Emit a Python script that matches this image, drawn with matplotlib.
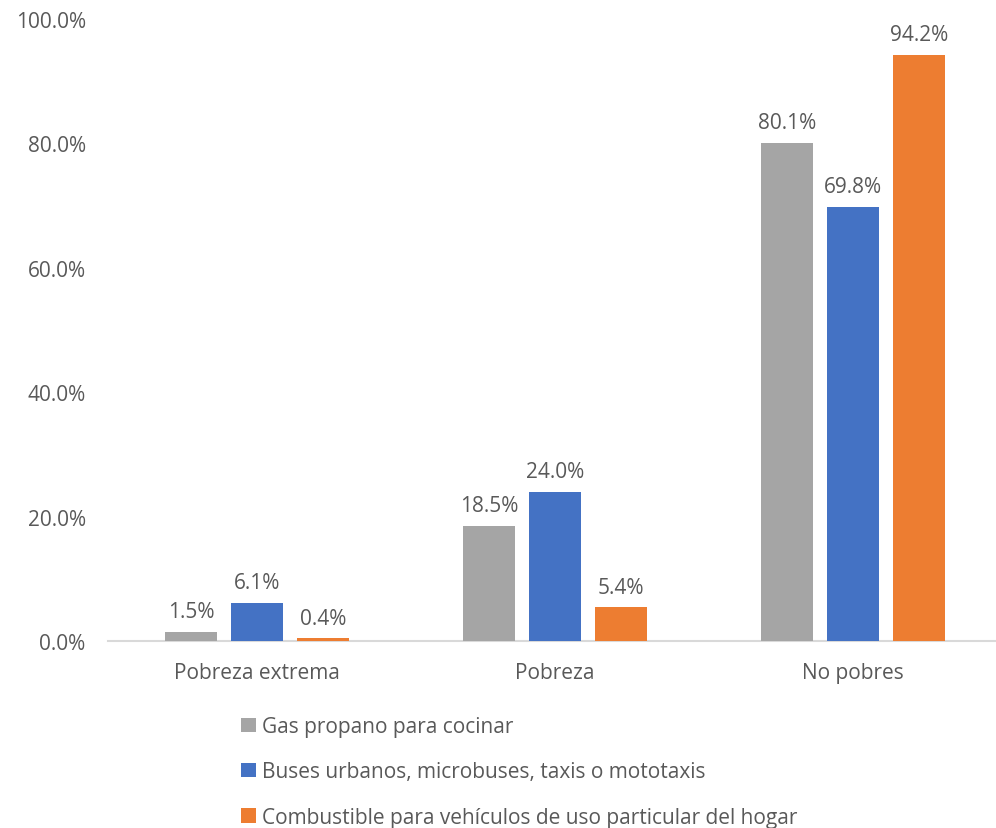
import numpy as np
import matplotlib
matplotlib.use('Agg')
from matplotlib import pyplot as plt
from matplotlib.ticker import FuncFormatter

categories = ['Pobreza extrema', 'Pobreza', 'No pobres']
series_names = ['Gas propano para cocinar',
                'Buses urbanos, microbuses, taxis o mototaxis',
                'Combustible para vehículos de uso particular del hogar']
gas = [1.5, 18.5, 80.1]
buses = [6.1, 24.0, 69.8]
combustible = [0.4, 5.4, 94.2]
colors = ['#a5a5a5', '#4472c4', '#ed7d31']

plt.rcParams['font.family'] = ['Open Sans', 'DejaVu Sans']
txt = '#595959'
fs = 15

fig = plt.figure(figsize=(9.96, 8.29), dpi=100)
ax = fig.add_axes([0.1084, 0.2256, 0.8976, 0.7503])

x = np.arange(len(categories))
w = 0.1745
step = 0.2215
for i, (vals, name, c) in enumerate(zip([gas, buses, combustible], series_names, colors)):
    bars = ax.bar(x + (i - 1) * step, vals, w, color=c, label=name, zorder=3)
    ax.bar_label(bars, labels=['%.1f%%' % v for v in vals], padding=7,
                 fontsize=fs, color=txt)

ax.set_xlim(-0.5, 2.5)
ax.set_ylim(0, 100)
ax.set_yticks(np.arange(0, 101, 20))
ax.yaxis.set_major_formatter(FuncFormatter(lambda v, p: '%.1f%%' % v))
ax.set_xticks(x)
ax.set_xticklabels(categories)
ax.tick_params(axis='y', length=0, pad=16, labelsize=fs, labelcolor=txt)
ax.tick_params(axis='x', length=0, pad=15, labelsize=fs, labelcolor=txt)
for s in ['top', 'right', 'left']:
    ax.spines[s].set_visible(False)
ax.spines['bottom'].set_color('#d9d9d9')
ax.spines['bottom'].set_linewidth(1.5)

fig.legend(loc='upper left', bbox_to_anchor=(0.242, 0.135), frameon=False,
           fontsize=fs, labelcolor=txt, handlelength=0.7, handleheight=0.7,
           handletextpad=0.3, labelspacing=1.17, borderpad=0, borderaxespad=0)

fig.savefig('out.png', dpi=100)
